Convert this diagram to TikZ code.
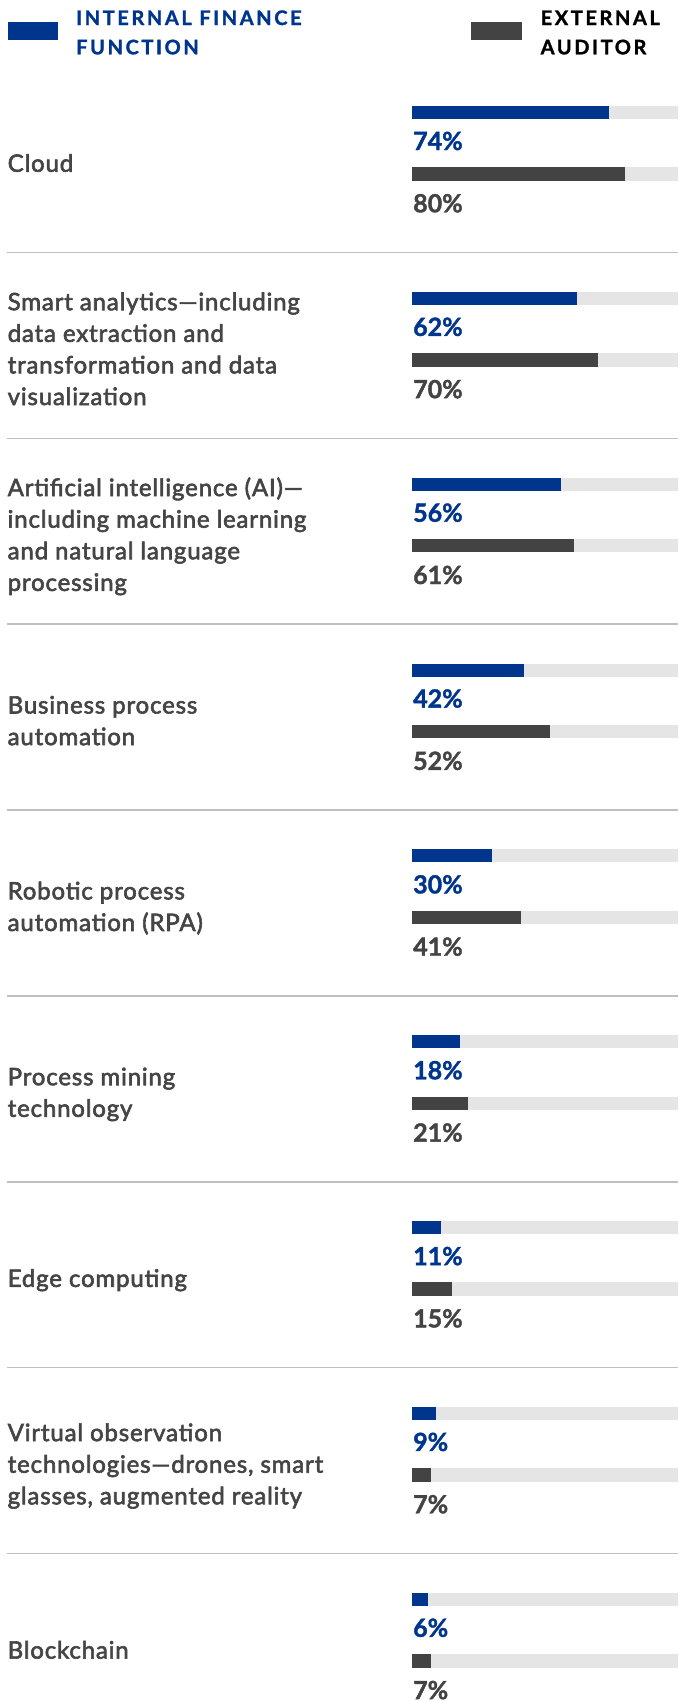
\documentclass[tikz,border=0pt]{standalone}
\usepackage{fontspec}
\setmainfont{Lato}
\newfontfamily\catfont{Lato}[FakeBold=2.5,LetterSpace=3.5]
\newfontfamily\pctfont{Lato}[BoldFeatures={FakeBold=1.5}]
\newfontfamily\legfont{Lato}[LetterSpace=13,BoldFeatures={FakeBold=1.5}]

\definecolor{ifblue}{HTML}{00358E}
\definecolor{audgray}{HTML}{434343}
\definecolor{trackgray}{HTML}{E5E5E5}
\definecolor{rulegray}{HTML}{BFBFBF}
\definecolor{labgray}{HTML}{454545}

\tikzset{
    catlabel/.style={anchor=base west, align=left, inner sep=0pt, text=labgray,
        font=\catfont\fontsize{24}{31.6}\selectfont},
    pctlabel/.style={anchor=base west, inner sep=0pt, font=\pctfont\bfseries\fontsize{25}{25}\selectfont},
    legtext/.style={anchor=base west, align=left, inner sep=0pt,
        font=\legfont\bfseries\fontsize{20}{29.3}\selectfont}
}

\begin{document}
\begin{tikzpicture}[x=1pt,y=-1pt]
        \useasboundingbox (0,0) rectangle (678,1701);

        % legend (base anchor sits on the last line)
        \fill[ifblue] (7.5,21.5) rectangle (57.5,39.5);
        \node[legtext, text=ifblue] (legint) at (76,54.3) {INTERNAL FINANCE\\FUNCTION};
        \fill[audgray] (471,21.5) rectangle (522,39.5);
        \node[legtext, text=black] (legext) at (540.5,54.3) {EXTERNAL\\AUDITOR};

        % one row per technology: index / label / lines / internal / auditor
        \foreach \i/\lab/\n/\a/\b in {
            0/{Cloud}/1/74/80,
            1/{Smart analytics—including\\data extraction and\\transformation and data\\visualization}/4/62/70,
            2/{Artificial intelligence (AI)—\\including machine learning\\and natural language\\processing}/4/56/61,
            3/{Business process\\automation}/2/42/52,
            4/{Robotic process\\automation (RPA)}/2/30/41,
            5/{Process mining\\technology}/2/18/21,
            6/{Edge computing}/1/11/15,
            7/{Virtual observation\\technologies—drones, smart\\glasses, augmented reality}/3/9/7,
            8/{Blockchain}/1/6/7} {
            \pgfmathsetmacro\yo{\i*185.85}
            \pgfmathsetmacro\yl{163+\yo+8.75+(\n-1)*15.8}
            \node[catlabel] (cat\i) at (7.5,\yl) {\lab};

            \fill[trackgray] (412,106+\yo) rectangle (678,119+\yo);
            \fill[ifblue] (412,106+\yo) rectangle (412+2.66*\a,119+\yo);
            \node[pctlabel, text=ifblue] (pint\i) at (413,150+\yo) {\a\%};

            \fill[trackgray] (412,167.3+\yo) rectangle (678,180.7+\yo);
            \fill[audgray] (412,167.3+\yo) rectangle (412+2.66*\b,180.7+\yo);
            \node[pctlabel, text=audgray] (pext\i) at (413,212.3+\yo) {\b\%};
        }

        % separators
        \foreach \i in {0,...,7} {
            \draw[rulegray, line width=1.5pt] (7,252.5+\i*185.85) -- (678,252.5+\i*185.85);
        }
    \end{tikzpicture}
\end{document}
